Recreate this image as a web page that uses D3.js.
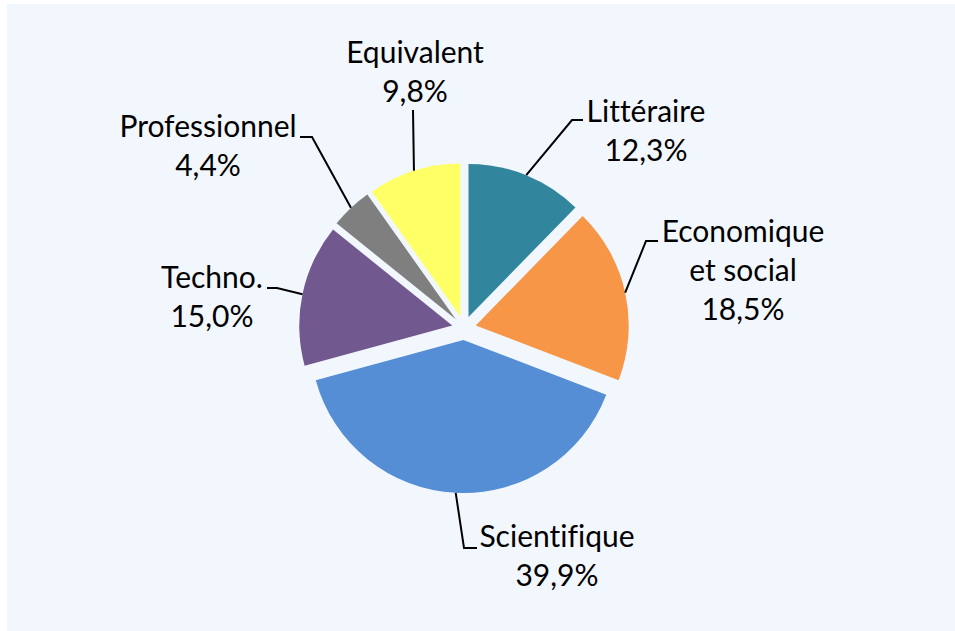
<!DOCTYPE html>
<html>
<head>
<meta charset="utf-8">
<script src="https://cdn.jsdelivr.net/npm/d3@7"></script>
<style>
  html, body { margin: 0; padding: 0; background: #fff; }
  svg { display: block; }
  .lbl { font-family: Lato, "Open Sans", sans-serif; font-size: 30px; fill: #000; font-variant-ligatures: none; }
  .leader { fill: none; stroke: #000; stroke-width: 2; }
</style>
</head>
<body>
<div id="chart"></div>
<script>
const WIDTH = 955, HEIGHT = 631;

// data
const categories = ["Littéraire", "Economique\net social", "Scientifique", "Techno.", "Professionnel", "Equivalent"];
const shares = [12.3, 18.5, 39.9, 15.0, 4.4, 9.8];
const colors = ["#31859C", "#F79646", "#558ED5", "#71588F", "#7F7F7F", "#FFFF66"];

// label layout: text centre x, first baseline y, leader end + elbow
const labelLayout = [
  { x: 646, y: 122, ex: 583, ey: 120, bx: 572 },
  { x: 743, y: 242, ex: 658, ey: 241, bx: 646 },
  { x: 557, y: 547, ex: 477, ey: 548, bx: 464 },
  { x: 212, y: 288, ex: 267, ey: 288, bx: 277 },
  { x: 208, y: 137, ex: 300, ey: 137, bx: 312 },
  { x: 415, y: 63,  ex: 413, ey: 110, bx: 413 }
];

const CX = 464, CY = 328, R = 153, EXPLODE = 12, LINE_H = 39;

const fr = d3.formatLocale({ decimal: ",", thousands: " ", grouping: [3], currency: ["", " €"] });
const pct = fr.format(".1f");

const svg = d3.select("#chart").append("svg")
  .attr("width", WIDTH).attr("height", HEIGHT);

svg.append("rect")
  .attr("x", 7).attr("y", 4)
  .attr("width", WIDTH - 7).attr("height", HEIGHT - 4)
  .attr("fill", "#F2F7FE");

const rows = categories.map((c, i) => ({ cat: c, value: shares[i], color: colors[i], lay: labelLayout[i] }));

const pie = d3.pie().sort(null).value(d => d.value).startAngle(0).endAngle(2 * Math.PI);
const arc = d3.arc().innerRadius(0).outerRadius(R);
const arcs = pie(rows);

const g = svg.append("g").attr("transform", `translate(${CX},${CY})`);

const offset = a => {
  const mid = (a.startAngle + a.endAngle) / 2;
  return [EXPLODE * Math.sin(mid), -EXPLODE * Math.cos(mid)];
};

// slices
g.selectAll("path.slice").data(arcs).join("path")
  .attr("class", "slice")
  .attr("d", arc)
  .attr("fill", d => d.data.color)
  .attr("transform", d => `translate(${offset(d)})`);

// leader lines from the arc at mid angle
svg.selectAll("path.leader").data(arcs).join("path")
  .attr("class", "leader")
  .attr("d", d => {
    const mid = (d.startAngle + d.endAngle) / 2;
    const [ox, oy] = offset(d);
    const px = CX + ox + R * Math.sin(mid);
    const py = CY + oy - R * Math.cos(mid);
    const L = d.data.lay;
    return d3.line()([[px, py], [L.bx, L.ey], [L.ex, L.ey]]);
  });

// labels
const lbl = svg.selectAll("text.lbl").data(arcs).join("text")
  .attr("class", "lbl")
  .attr("text-anchor", "middle");

lbl.each(function(d) {
  const lines = d.data.cat.split("\n").concat([pct(d.data.value) + "%"]);
  d3.select(this).selectAll("tspan").data(lines).join("tspan")
    .attr("x", d.data.lay.x)
    .attr("y", (t, i) => d.data.lay.y + i * LINE_H)
    .text(t => t);
});
</script>
</body>
</html>
